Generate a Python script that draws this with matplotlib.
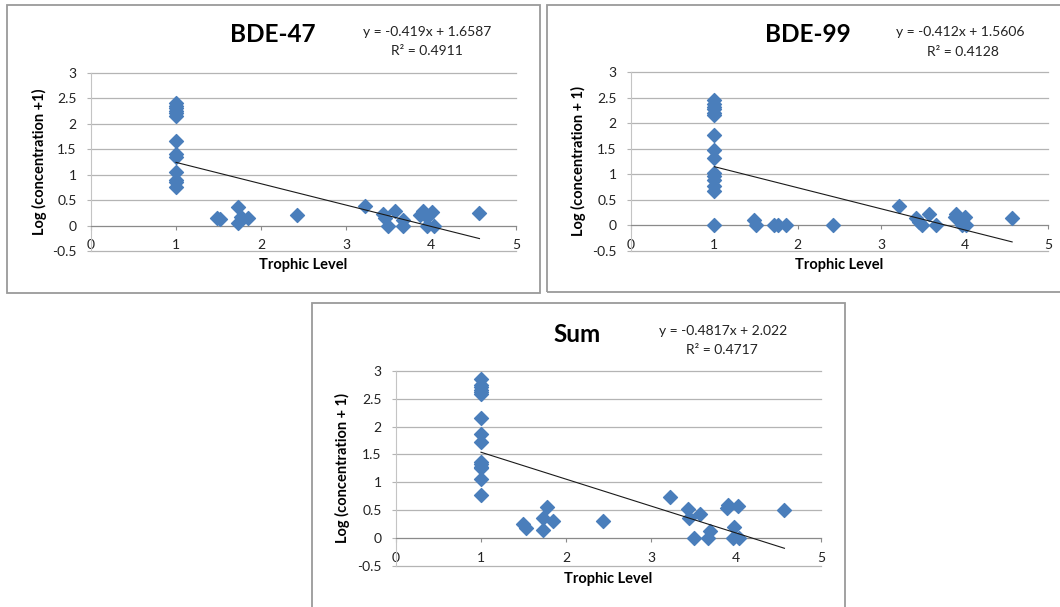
import numpy as np
import matplotlib
matplotlib.use("Agg")
import matplotlib.pyplot as plt
from matplotlib.patches import Rectangle

plt.rcParams['font.family'] = ['Lato', 'DejaVu Sans']

# --- data ---
x47 = [1, 1, 1, 1, 1, 1, 1, 1, 1, 1, 1, 1, 1,
       1.48, 1.52, 1.73, 1.73, 1.77, 1.85, 2.42, 3.22, 3.44, 3.46, 3.49, 3.58,
       3.67, 3.67, 3.87, 3.90, 3.95, 3.95, 4.01, 4.03, 4.57]
y47 = [2.4, 2.35, 2.3, 2.25, 2.2, 2.15, 1.65, 1.4, 1.35, 1.05, 0.9, 0.85, 0.75,
       0.14, 0.12, 0.36, 0.05, 0.16, 0.15, 0.2, 0.39, 0.23, 0.15, 0.0, 0.28,
       0.1, 0.0, 0.2, 0.28, 0.17, 0.0, 0.27, 0.0, 0.24]

x99 = [1, 1, 1, 1, 1, 1, 1, 1, 1, 1, 1, 1, 1, 1, 1,
       1.48, 1.50, 1.72, 1.76, 1.86, 2.42, 3.21, 3.42, 3.45, 3.49, 3.57, 3.66,
       3.88, 3.90, 3.97, 4.00, 4.02, 4.57]
y99 = [2.45, 2.38, 2.32, 2.27, 2.2, 2.15, 1.77, 1.47, 1.32, 1.03, 0.97, 0.88, 0.77, 0.67, 0.0,
       0.1, 0.0, 0.0, 0.0, 0.01, 0.0, 0.38, 0.15, 0.07, 0.0, 0.23, 0.0,
       0.17, 0.23, 0.0, 0.17, 0.0, 0.15]

xsum = [1, 1, 1, 1, 1, 1, 1, 1, 1, 1, 1, 1, 1, 1, 1,
        1.49, 1.53, 1.73, 1.73, 1.78, 1.85, 2.43, 3.22, 3.43, 3.45, 3.50, 3.58,
        3.67, 3.69, 3.89, 3.91, 3.96, 3.98, 4.02, 4.03, 4.57]
ysum = [2.85, 2.75, 2.7, 2.65, 2.62, 2.58, 2.15, 1.87, 1.72, 1.37, 1.33, 1.28, 1.25, 1.06, 0.78,
        0.25, 0.18, 0.36, 0.14, 0.56, 0.31, 0.31, 0.74, 0.52, 0.36, 0.0, 0.44,
        0.0, 0.13, 0.54, 0.6, 0.0, 0.21, 0.57, 0.0, 0.51]

# trend lines as printed on the charts
fits = {"BDE-47": (-0.419, 1.6587, "y = -0.419x + 1.6587", "R² = 0.4911"),
        "BDE-99": (-0.412, 1.5606, "y = -0.412x + 1.5606", "R² = 0.4128"),
        "Sum": (-0.4817, 2.022, "y = -0.4817x + 2.022", "R² = 0.4717")}

xticks = [0, 1, 2, 3, 4, 5]
yticks = [-0.5, 0, 0.5, 1, 1.5, 2, 2.5, 3]

W, H = 1060, 607
fig = plt.figure(figsize=(W / 100, H / 100), dpi=100)


def px(x0, y0, x1, y1):
    # pixel box (top-left origin) -> figure fraction rect
    return [x0 / W, 1 - y1 / H, (x1 - x0) / W, (y1 - y0) / H]


def panel(box, axbox, xs, ys, name, ylab, title_xy, eq_xy, r2_xy, xl_y, yl_x):
    fig.add_artist(Rectangle((box[0] / W, 1 - box[3] / H), (box[2] - box[0]) / W,
                             (box[3] - box[1]) / H, transform=fig.transFigure,
                             fill=False, ec='#9a9a9a', lw=1.3))
    ax = fig.add_axes(px(*axbox))
    ax.set_xlim(0, 5)
    ax.set_ylim(-0.5, 3)
    ax.set_xticks(xticks)
    ax.set_yticks(yticks)
    ax.set_yticklabels([f"{t:g}" for t in yticks])
    ax.grid(axis='y', color='#b4b4b4', lw=0.9)
    for gl in ax.get_ygridlines():
        gl.set_clip_on(False)
    ax.set_axisbelow(True)
    ax.spines['top'].set_visible(False)
    ax.spines['right'].set_visible(False)
    ax.spines['left'].set_color('#c4c4c4')
    ax.spines['bottom'].set_position(('data', 0))
    ax.spines['bottom'].set_color('#8a8a8a')
    ax.tick_params(axis='x', direction='out', length=3.2, color='#8a8a8a', pad=6.5,
                   labelsize=10, labelcolor='#222222')
    ax.tick_params(axis='y', direction='out', length=3.2, color='#b4b4b4', pad=7,
                   labelsize=10, labelcolor='#222222')
    ax.scatter(xs, ys, marker='D', s=50, color='#4a7ebb', zorder=3, clip_on=False)
    m, b, eq, r2 = fits[name]
    lx = np.array([min(xs), max(xs)])
    ax.plot(lx, m * lx + b, color='#1a1a1a', lw=0.8, zorder=4)
    fig.text(title_xy[0] / W, 1 - title_xy[1] / H, name, fontsize=17.5, fontweight='bold',
             ha='center', va='center')
    fig.text(eq_xy[0] / W, 1 - eq_xy[1] / H, eq, fontsize=10, ha='center', va='center',
             color='#222222')
    fig.text(r2_xy[0] / W, 1 - r2_xy[1] / H, r2, fontsize=10, ha='center', va='center',
             color='#222222')
    cx = (axbox[0] + axbox[2]) / 2
    fig.text(cx / W, 1 - xl_y / H, "Trophic Level", fontsize=10.5, fontweight='bold',
             ha='center', va='center')
    cy = (axbox[1] + axbox[3]) / 2
    fig.text(yl_x / W, 1 - cy / H, ylab, fontsize=10.5, fontweight='bold', rotation=90,
             ha='center', va='center')
    return ax


panel((7, 5, 540, 292.7), (91, 72.7, 516, 251), x47, y47, "BDE-47",
      "Log (concentration +1)", (273, 35), (427, 32), (427, 51), 264.5, 39)
panel((547, 5, 1068, 292), (631, 72, 1048, 251), x99, y99, "BDE-99",
      "Log (concentration + 1)", (808, 35), (960, 32), (963, 52), 264.5, 578)
panel((312, 303.3, 845, 620), (396, 370.7, 821, 566.2), xsum, ysum, "Sum",
      "Log (concentration + 1)", (577, 334), (723, 331), (722, 350), 579, 342.5)

fig.savefig("out.png", dpi=100)
